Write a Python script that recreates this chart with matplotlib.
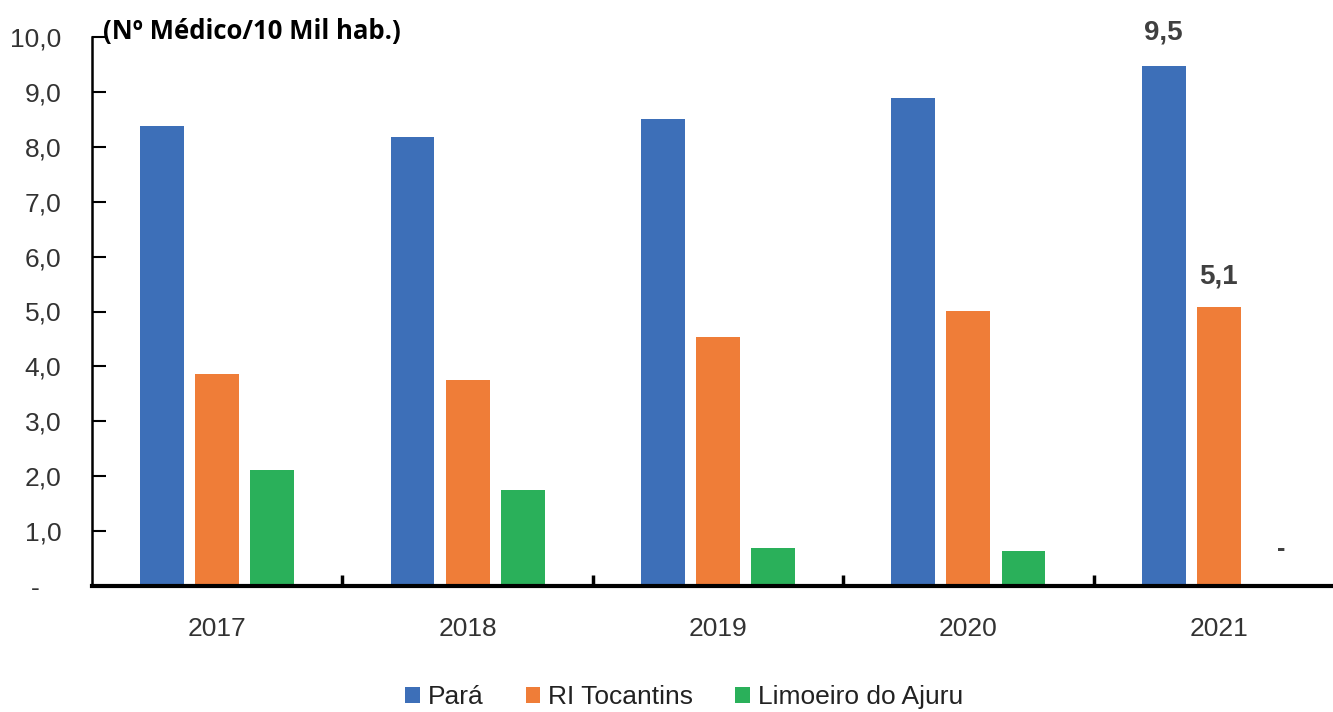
import numpy as np
import matplotlib
matplotlib.use("Agg")
from matplotlib import pyplot as plt
from matplotlib.ticker import FixedLocator

anos = ["2017", "2018", "2019", "2020", "2021"]
para = [8.38, 8.18, 8.51, 8.89, 9.47]
tocantins = [3.86, 3.75, 4.54, 5.01, 5.08]
limoeiro = [2.11, 1.75, 0.69, 0.64, 0.0]
series = ["Pará", "RI Tocantins", "Limoeiro do Ajuru"]
cores = ["#3D6FB8", "#EF7D38", "#2AB05A"]
yticks = [0, 1, 2, 3, 4, 5, 6, 7, 8, 9, 10]
ytick_labels = ["-   ", "1,0", "2,0", "3,0", "4,0", "5,0", "6,0", "7,0", "8,0", "9,0", "10,0"]

plt.rcParams['font.family'] = ['Liberation Sans', 'DejaVu Sans']

fig = plt.figure(figsize=(13.33, 7.12), dpi=100)
ax = fig.add_axes([92 / 1333, 126 / 712, 1252 / 1333, 549 / 712])

x = np.arange(len(anos))
w = 0.175
off = 0.22
dados = [para, tocantins, limoeiro]
for i in range(3):
    ax.bar(x + (i - 1) * off, dados[i], width=w, color=cores[i], label=series[i], zorder=2)

# rotulos de dados (so 2021)
ax.annotate("9,5", (x[4] - off, para[4]), xytext=(0, 15), textcoords="offset points",
            ha="center", va="bottom", fontsize=20, fontweight="bold", color="#404040")
ax.annotate("5,1", (x[4], tocantins[4]), xytext=(0, 13), textcoords="offset points",
            ha="center", va="bottom", fontsize=20, fontweight="bold", color="#404040")
ax.annotate("-", (x[4] + off + 0.03, limoeiro[4]), xytext=(0, 18), textcoords="offset points",
            ha="center", va="bottom", fontsize=18, fontweight="bold", color="#404040")

ax.set_xlim(-0.5, 4.5)
ax.set_ylim(0, 10)
ax.set_yticks(yticks)
ax.set_yticklabels(ytick_labels)
ax.set_xticks(x)
ax.set_xticklabels(anos)
ax.xaxis.set_minor_locator(FixedLocator([0.5, 1.5, 2.5, 3.5]))

ax.tick_params(axis="y", direction="in", length=10, width=1.5, pad=22, labelsize=19,
               labelcolor="#333333")
ax.tick_params(axis="x", which="major", length=0, pad=22, labelsize=19, labelcolor="#333333")
ax.tick_params(axis="x", which="minor", direction="in", length=8, width=2.5)

for s in ["top", "right"]:
    ax.spines[s].set_visible(False)
ax.spines["left"].set_linewidth(1.8)
ax.spines["bottom"].set_linewidth(3)

fig.text(103 / 1333, 1 - 32 / 712, "(Nº Médico/10 Mil hab.)", fontsize=18.5, fontweight="bold",
         family=["Open Sans", "DejaVu Sans"], ha="left", va="center", color="black")

fig.legend(loc="center", bbox_to_anchor=(684 / 1333, 1 - 697 / 712), ncol=3, frameon=False,
           fontsize=19, handlelength=0.55, handleheight=0.55, handletextpad=0.3,
           columnspacing=1.6, labelcolor="#222222")

fig.savefig("out.png", dpi=100)
